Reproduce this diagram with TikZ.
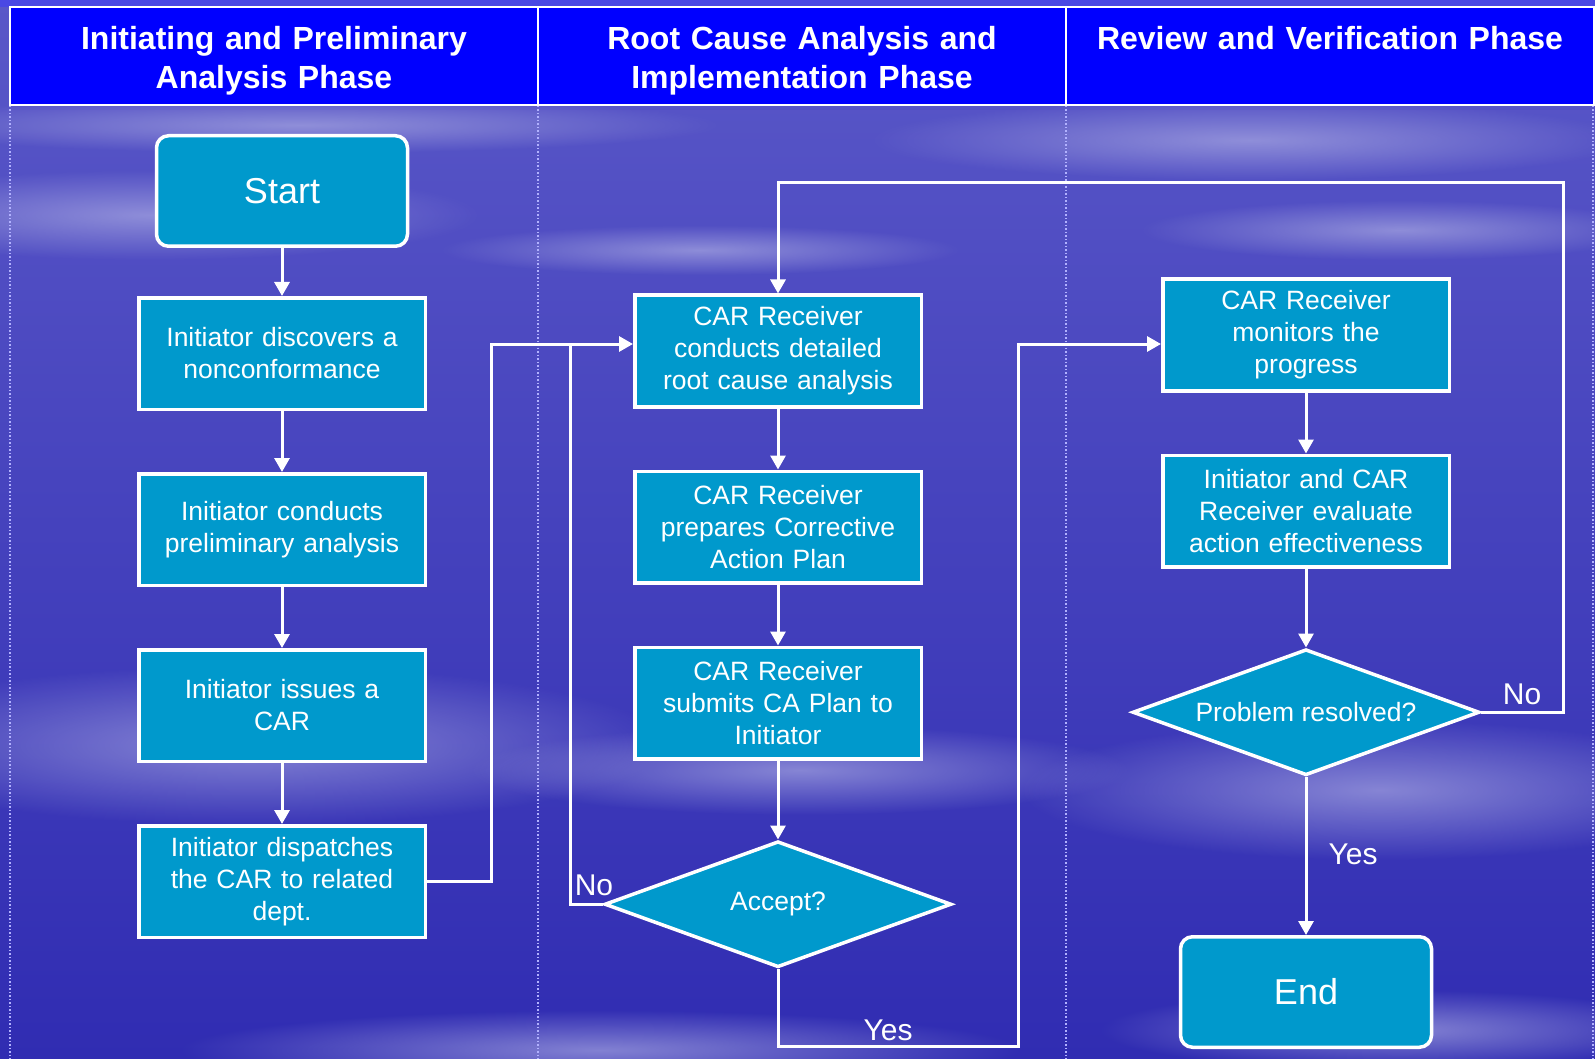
\documentclass[tikz,border=0pt]{standalone}
\usepackage{fontspec}
\setmainfont{Liberation Sans}
\usetikzlibrary{arrows.meta,positioning,shapes.geometric,fadings}

\definecolor{boxblue}{RGB}{0,153,204}
\definecolor{headblue}{RGB}{0,0,255}
\definecolor{stripblue}{RGB}{74,72,228}
\definecolor{bgtop}{RGB}{90,88,200}
\definecolor{bgmid}{RGB}{36,32,170}
\definecolor{bgbot}{RGB}{48,44,178}
\definecolor{cloud}{RGB}{175,175,228}

\tikzfading[name=softcloud, inner color=transparent!35, outer color=transparent!100]

\begin{document}
\begin{tikzpicture}[x=1pt, y=-1pt,
    node distance=61pt,
    box/.style={draw=white, line width=3.5pt, fill=boxblue, text=white, minimum width=286.5pt, minimum height=111.5pt, text width=275pt, align=center, inner sep=0pt, font=\fontsize{26.5}{32}\selectfont},
    term/.style={box, rounded corners=12pt, minimum width=251pt, minimum height=110.5pt, text width=200pt, font=\fontsize{36}{42}\selectfont},
    decision/.style={diamond, draw=white, line width=3.5pt, fill=boxblue, text=white, aspect=2.76, minimum width=347pt, minimum height=126pt, inner sep=0pt, font=\fontsize{26.5}{32}\selectfont},
    head/.style={anchor=north, text=white, text width=510pt, align=center, inner sep=0pt, font=\bfseries\fontsize{32}{39}\selectfont},
    lbl/.style={text=white, inner sep=0pt, font=\fontsize{30}{36}\selectfont},
    arr/.style={-{Triangle[length=14pt,width=15pt]}, draw=white, line width=3pt},
    link/.style={draw=white, line width=3pt},
    lane/.style={draw=white!70!blue, line width=1.5pt, dotted},
    streak/.style={fill=cloud, path fading=softcloud}
  ]
    \useasboundingbox (0,0) rectangle (1595,1059);

    % background with cloud streaks
    \fill[top color=bgtop, middle color=bgmid, bottom color=bgbot] (0,0) rectangle (1595,1059);
    \fill[streak] (300,125) ellipse (420 and 28);
    \fill[streak] (1250,140) ellipse (380 and 40);
    \fill[streak] (150,215) ellipse (330 and 45);
    \fill[streak] (700,250) ellipse (260 and 25);
    \fill[streak] (1400,230) ellipse (260 and 30);
    \fill[streak] (250,745) ellipse (420 and 80);
    \fill[streak] (800,770) ellipse (330 and 45);
    \fill[streak] (1380,790) ellipse (360 and 70);
    \fill[streak] (600,1050) ellipse (420 and 40);
    \fill[streak] (1400,1030) ellipse (300 and 40);

    % phase header
    \fill[stripblue] (0,0) rectangle (1595,7);
    \draw[white, line width=1.5pt, fill=headblue] (10,7) rectangle (1594,105);
    \draw[white, line width=1.5pt] (538,7) -- (538,105) (1066,7) -- (1066,105);
    \foreach \x in {10,538,1066,1593}
      \draw[lane] (\x,106) -- (\x,1059);

    \node[head] (phaseA) at (274,26) {Initiating and Preliminary\\Analysis Phase};
    \node[head] (phaseB) at (802,26) {Root Cause Analysis and\\Implementation Phase};
    \node[head] (phaseC) at (1330,26) {Review and Verification Phase};

    % initiating column
    \node[term] (start) at (282,191) {Start};
    \node[box, below=48pt of start] (discover) {Initiator discovers a\\nonconformance};
    \node[box, below=of discover] (prelim) {Initiator conducts\\preliminary analysis};
    \node[box, below=of prelim] (issue) {Initiator issues a\\CAR};
    \node[box, below=of issue] (dispatch) {Initiator dispatches\\the CAR to related\\dept.};

    % root cause column
    \node[box] (analysis) at (778,351) {CAR Receiver\\conducts detailed\\root cause analysis};
    \node[box, below=of analysis] (plan) {CAR Receiver\\prepares Corrective\\Action Plan};
    \node[box, below=of plan] (submit) {CAR Receiver\\submits CA Plan to\\Initiator};
    \node[decision, below=79pt of submit] (accept) {Accept?};

    % review column
    \node[box] (monitor) at (1306,335) {CAR Receiver\\monitors the\\progress};
    \node[box, below=of monitor] (evaluate) {Initiator and CAR\\Receiver evaluate\\action effectiveness};
    \node[decision, below=79pt of evaluate] (resolved) {Problem resolved?};
    \node[term, below=158pt of resolved] (finish) {End};

    \coordinate (nojoin) at (570,344);
    \coordinate (yesturn) at (1018,1046);
    \coordinate (loopturn) at (1563,183);

    \draw[arr] (start) -- (discover);
    \draw[arr] (discover) -- (prelim);
    \draw[arr] (prelim) -- (issue);
    \draw[arr] (issue) -- (dispatch);
    \draw[arr] (dispatch.east) -- ++(64,0) |- ([yshift=7pt]analysis.west);
    \draw[arr] (analysis) -- (plan);
    \draw[arr] (plan) -- (submit);
    \draw[arr] (submit) -- (accept);
    \draw[link] (accept.west) -| (nojoin);
    \draw[arr] (accept.south) |- (yesturn) |- ([yshift=-9pt]monitor.west);
    \draw[arr] (monitor) -- (evaluate);
    \draw[arr] (evaluate) -- (resolved);
    \draw[arr] (resolved) -- (finish);
    \draw[arr] (resolved.east) -| (loopturn) -| (analysis.north);

    \node[lbl] (noA) at (594,885) {No};
    \node[lbl] (yesA) at (888,1030) {Yes};
    \node[lbl] (noB) at (1522,694) {No};
    \node[lbl] (yesB) at (1353,854) {Yes};
  \end{tikzpicture}
\end{document}
